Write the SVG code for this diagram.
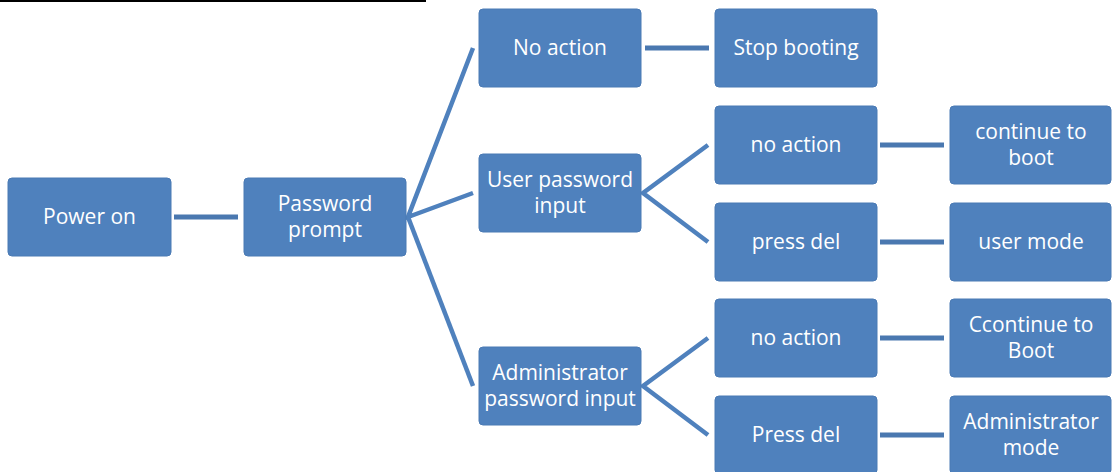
<svg xmlns="http://www.w3.org/2000/svg" width="1112" height="472" viewBox="0 0 1112 472">
<style>
.n{fill:#4f81bd;stroke:#4a7ab4;stroke-width:1}
.t{fill:#ffffff;font-family:"Open Sans","Liberation Sans",sans-serif;font-size:21px;text-anchor:middle}
.c{stroke:#4a78b0;stroke-width:5;fill:none}
.d{stroke:#4f81bd;stroke-width:4.5;fill:none}
</style>
<rect x="0" y="0" width="1112" height="472" fill="#ffffff"/>
<line x1="0" y1="1" x2="426" y2="1" stroke="#000000" stroke-width="2"/>
<g id="connectors">
<line class="c" x1="174" y1="217" x2="238" y2="217"/>
<polyline class="d" points="473,48 408,217 473,193"/>
<line class="d" x1="408" y1="217" x2="473" y2="386"/>
<line class="c" x1="645" y1="48" x2="709" y2="48"/>
<polyline class="d" points="708,145 643,193 708,242"/>
<polyline class="d" points="708,338 643,386 708,435"/>
<line class="c" x1="880" y1="145" x2="944" y2="145"/>
<line class="c" x1="880" y1="242" x2="944" y2="242"/>
<line class="c" x1="880" y1="338" x2="944" y2="338"/>
<line class="c" x1="880" y1="435" x2="944" y2="435"/>
</g>
<g id="power-on"><rect class="n" x="8" y="178" width="163" height="78" rx="4"/><text class="t" x="89.5" y="224">Power on</text></g>
<g id="password-prompt"><rect class="n" x="244" y="178" width="162" height="78" rx="4"/><text class="t" x="325" y="211">Password</text><text class="t" x="325" y="237">prompt</text></g>
<g id="no-action-1"><rect class="n" x="479" y="9" width="162" height="78" rx="4"/><text class="t" x="560" y="55">No action</text></g>
<g id="stop-booting"><rect class="n" x="715" y="9" width="162" height="78" rx="4"/><text class="t" x="796" y="55">Stop booting</text></g>
<g id="user-password-input"><rect class="n" x="479" y="154" width="162" height="78" rx="4"/><text class="t" x="560" y="187">User password</text><text class="t" x="560" y="213">input</text></g>
<g id="admin-password-input"><rect class="n" x="479" y="347" width="162" height="78" rx="4"/><text class="t" x="560" y="380">Administrator</text><text class="t" x="560" y="406">password input</text></g>
<g id="no-action-2"><rect class="n" x="715" y="106" width="162" height="78" rx="4"/><text class="t" x="796" y="152">no action</text></g>
<g id="press-del-1"><rect class="n" x="715" y="203" width="162" height="78" rx="4"/><text class="t" x="796" y="249">press del</text></g>
<g id="no-action-3"><rect class="n" x="715" y="299" width="162" height="78" rx="4"/><text class="t" x="796" y="345">no action</text></g>
<g id="press-del-2"><rect class="n" x="715" y="396" width="162" height="78" rx="4"/><text class="t" x="796" y="442">Press del</text></g>
<g id="continue-to-boot"><rect class="n" x="950" y="106" width="161" height="78" rx="4"/><text class="t" x="1031" y="139">continue to</text><text class="t" x="1031" y="165">boot</text></g>
<g id="user-mode"><rect class="n" x="950" y="203" width="161" height="78" rx="4"/><text class="t" x="1031" y="249">user mode</text></g>
<g id="ccontinue-to-boot"><rect class="n" x="950" y="299" width="161" height="78" rx="4"/><text class="t" x="1031" y="332">Ccontinue to</text><text class="t" x="1031" y="358">Boot</text></g>
<g id="administrator-mode"><rect class="n" x="950" y="396" width="161" height="78" rx="4"/><text class="t" x="1031" y="429">Administrator</text><text class="t" x="1031" y="455">mode</text></g>
</svg>
